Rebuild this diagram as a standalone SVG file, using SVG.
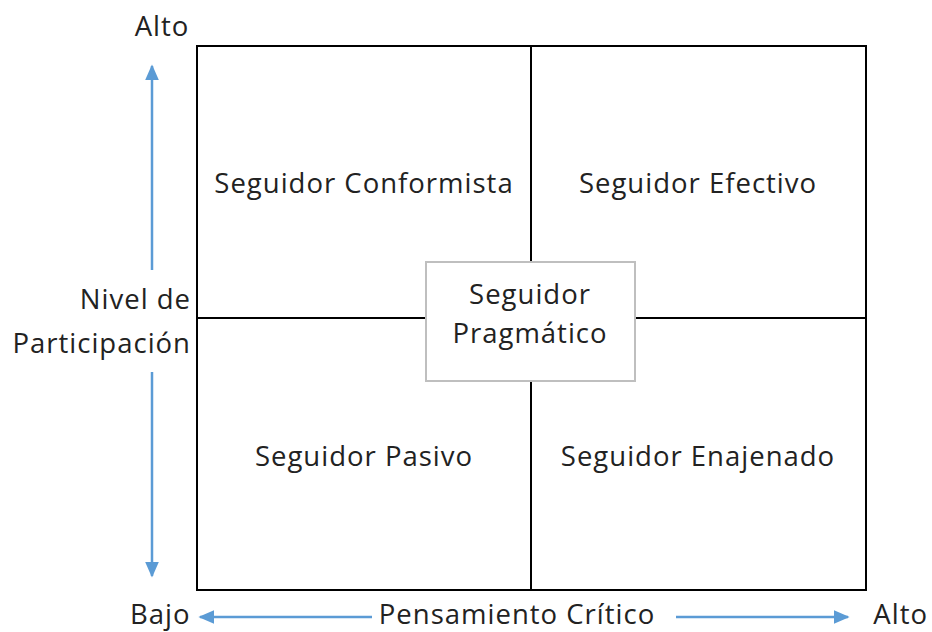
<svg xmlns="http://www.w3.org/2000/svg" width="932" height="632" viewBox="0 0 932 632">
<defs>
<style>
text{font-family:"Open Sans","Noto Sans","Liberation Sans",sans-serif;font-size:27.5px;letter-spacing:1px;fill:#222;}
.m{text-anchor:middle}
.e{text-anchor:end}
.ln{stroke:#000;stroke-width:2;fill:none}
.ax{stroke:#5b9bd5;stroke-width:2.5;fill:none}
</style>
<marker id="ah" viewBox="0 0 10 10" refX="9" refY="5" markerWidth="16" markerHeight="14" markerUnits="userSpaceOnUse" orient="auto" preserveAspectRatio="none">
<path d="M0,0 L10,5 L0,10 z" fill="#5b9bd5"/>
</marker>
</defs>
<rect width="932" height="632" fill="#fff"/>
<g id="grid">
<rect class="ln" x="197" y="46" width="669" height="544"/>
<line class="ln" x1="531" y1="46" x2="531" y2="590"/>
<line class="ln" x1="197" y1="318" x2="866" y2="318"/>
</g>
<g id="connectors">
<line class="ax" x1="152" y1="270" x2="152" y2="66" marker-end="url(#ah)"/>
<line class="ax" x1="152" y1="372" x2="152" y2="576" marker-end="url(#ah)"/>
<line class="ax" x1="372" y1="617" x2="200" y2="617" marker-end="url(#ah)"/>
<line class="ax" x1="676" y1="617" x2="848" y2="617" marker-end="url(#ah)"/>
</g>
<g id="q1"><text class="m" x="364" y="193">Seguidor Conformista</text></g>
<g id="q2"><text class="m" x="698" y="193">Seguidor Efectivo</text></g>
<g id="q3"><text class="m" x="364" y="466">Seguidor Pasivo</text></g>
<g id="q4"><text class="m" x="698" y="466">Seguidor Enajenado</text></g>
<g id="center">
<rect x="426" y="262" width="209" height="119" fill="#fff" stroke="#bfbfbf" stroke-width="2"/>
<text class="m" x="530" y="304">Seguidor</text>
<text class="m" x="530" y="343">Pragmático</text>
</g>
<g id="labels">
<text class="m" x="162" y="36">Alto</text>
<text class="e" x="191" y="309">Nivel de</text>
<text class="e" x="191" y="353">Participación</text>
<text x="130" y="624">Bajo</text>
<text class="m" x="517" y="624">Pensamiento Crítico</text>
<text class="e" x="928" y="624">Alto</text>
</g>
</svg>
